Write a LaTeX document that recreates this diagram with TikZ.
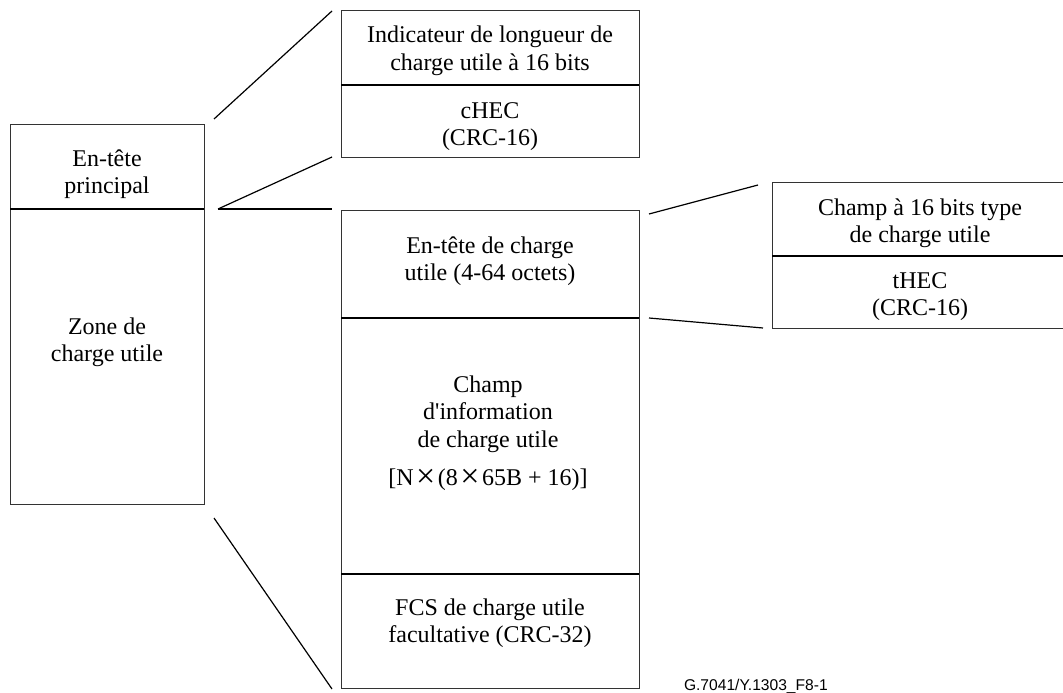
\documentclass[tikz,border=0pt]{standalone}
\usepackage{fontspec}
\setmainfont{Liberation Serif}
\newfontfamily\labelfont{Liberation Sans}
\newcommand{\stk}[1]{\begin{tabular}[t]{@{}c@{}}#1\end{tabular}}
\newcommand{\bigtimes}{\kern2.5pt\raisebox{-2.5pt}{\fontsize{34}{27.5}\selectfont ×}\kern2.5pt}
\begin{document}
\begin{tikzpicture}[x=1pt,y=-1pt,
  cell/.style={draw=black!80, line width=1pt, rectangle, inner sep=0pt, outer sep=0pt, anchor=north west},
  divider/.style={draw=black, line width=1.8pt},
  link/.style={draw=black, line width=1.2pt},
  txt/.style={inner sep=0pt, outer sep=0pt, anchor=base, font=\fontsize{24}{27.5}\selectfont},
  ref/.style={inner sep=0pt, outer sep=0pt, anchor=base west, font=\labelfont\fontsize{15.6}{18}\selectfont}]
\useasboundingbox (0,0) rectangle (1063,693);
% left frame
\node[cell, minimum width=194pt, minimum height=85pt] (mh) at (10,124) {};
\node[cell, minimum width=194pt, minimum height=295pt] (zone) at (10,209) {};
% core header box
\node[cell, minimum width=298pt, minimum height=74pt] (ind) at (341,11) {};
\node[cell, minimum width=298pt, minimum height=72pt] (chec) at (341,85) {};
% payload area box
\node[cell, minimum width=298pt, minimum height=108pt] (peh) at (341,210) {};
\node[cell, minimum width=298pt, minimum height=256pt] (pinfo) at (341,318) {};
\node[cell, minimum width=298pt, minimum height=114pt] (fcs) at (341,574) {};
% payload header box
\node[cell, minimum width=296pt, minimum height=74pt] (ptype) at (772,182) {};
\node[cell, minimum width=296pt, minimum height=72pt] (thec) at (772,256) {};
% dividers
\draw[divider] (mh.south west) -- (mh.south east);
\draw[divider] (ind.south west) -- (ind.south east);
\draw[divider] (peh.south west) -- (peh.south east);
\draw[divider] (pinfo.south west) -- (pinfo.south east);
\draw[divider] (ptype.south west) -- (ptype.south east);
% texts
\node[txt] (tmh) at (107,166) {\stk{En-tête\\principal}};
\node[txt] (tzone) at (107,334) {\stk{Zone de\\charge utile}};
\node[txt] (tind) at (490,43) {\stk{Indicateur de longueur de\\charge utile à 16 bits}};
\node[txt] (tchec) at (490,118) {\stk{cHEC\\(CRC-16)}};
\node[txt] (tpeh) at (490,253) {\stk{En-tête de charge\\utile (4-64 octets)}};
\node[txt] (tinfo) at (488,392) {\stk{Champ\\d\textquotesingle information\\de charge utile\\[10.5pt][N\bigtimes(8\bigtimes65B + 16)]}};
\node[txt] (tfcs) at (490,615) {\stk{FCS de charge utile\\facultative (CRC-32)}};
\node[txt] (tptype) at (920,215) {\stk{Champ à 16 bits type\\de charge utile}};
\node[txt] (tthec) at (920,288) {\stk{tHEC\\(CRC-16)}};
\node[ref] (fig) at (684,690) {G.7041/Y.1303\_F8-1};
% connector end points
\coordinate (a1) at (214,119);
\coordinate (a2) at (332,11);
\coordinate (b1) at (218,209);
\coordinate (b2) at (332,157);
\coordinate (c2) at (332,209);
\coordinate (d1) at (214,518);
\coordinate (d2) at (332,689);
\coordinate (e1) at (649,214);
\coordinate (e2) at (758,185);
\coordinate (f1) at (649,318);
\coordinate (f2) at (763,328);
\draw[link] (a1) -- (a2);
\draw[link] (b1) -- (b2);
\draw[link] (b1) -- (c2);
\draw[link] (d1) -- (d2);
\draw[link] (e1) -- (e2);
\draw[link] (f1) -- (f2);
\end{tikzpicture}
\end{document}
